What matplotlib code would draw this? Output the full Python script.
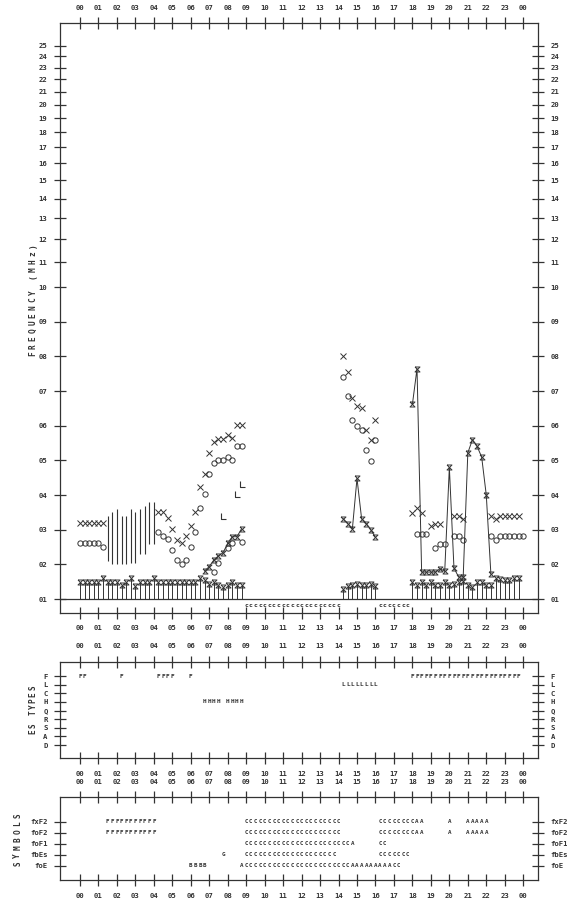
import numpy as np
import matplotlib
matplotlib.use("Agg")
import matplotlib.pyplot as plt
from matplotlib.path import Path

# ---------------- data ----------------
HOUR_TICKS = list(range(25))
HOUR_LABELS = ["%02d" % (h % 24) for h in HOUR_TICKS]
FREQ_TICKS = list(range(1, 26))
FREQ_LABELS = ["%02d" % f for f in FREQ_TICKS]

# fxF2 (x)
fx_t = [0.0, 0.25, 0.5, 0.75, 1.0, 1.25,
        4.25, 4.5, 4.75, 5.0, 5.25, 5.5, 5.75, 6.0, 6.25, 6.5, 6.75, 7.0,
        7.25, 7.5, 7.75, 8.0, 8.25, 8.5, 8.75,
        14.25, 14.5, 14.75, 15.0, 15.25, 15.5, 15.75, 16.0,
        18.0, 18.25, 18.5, 19.0, 19.25, 19.5, 20.25, 20.5, 20.75,
        22.25, 22.5, 22.75, 23.0, 23.25, 23.5, 23.75]
fx_v = [3.2, 3.2, 3.2, 3.2, 3.2, 3.2,
        3.52, 3.52, 3.33, 3.01, 2.7, 2.61, 2.83, 3.12, 3.52, 4.23, 4.61, 5.23,
        5.53, 5.61, 5.62, 5.74, 5.64, 6.02, 6.02,
        8.0, 7.55, 6.79, 6.58, 6.5, 5.89, 5.59, 6.18,
        3.49, 3.63, 3.49, 3.1, 3.18, 3.18, 3.4, 3.4, 3.3,
        3.4, 3.3, 3.4, 3.4, 3.4, 3.4, 3.4]

# foF2 (o)
fo_t = [0.0, 0.25, 0.5, 0.75, 1.0, 1.25,
        4.25, 4.5, 4.75, 5.0, 5.25, 5.5, 5.75, 6.0, 6.25, 6.5, 6.75, 7.0,
        7.25, 7.5, 7.75, 8.0, 8.25, 8.5, 8.75,
        14.25, 14.5, 14.75, 15.0, 15.25, 15.5, 15.75, 16.0,
        18.25, 18.5, 18.75, 19.25, 19.5, 19.75, 20.25, 20.5, 20.75,
        22.25, 22.5, 22.75, 23.0, 23.25, 23.5, 23.75, 24.0]
fo_v = [2.62, 2.62, 2.62, 2.62, 2.62, 2.51,
        2.93, 2.83, 2.73, 2.42, 2.13, 2.0, 2.13, 2.51, 2.93, 3.64, 4.03, 4.6,
        4.92, 5.02, 5.02, 5.11, 5.02, 5.42, 5.42,
        7.4, 6.87, 6.18, 5.99, 5.89, 5.3, 4.98, 5.59,
        2.89, 2.89, 2.89, 2.48, 2.58, 2.58, 2.81, 2.81, 2.7,
        2.81, 2.7, 2.81, 2.81, 2.81, 2.81, 2.81, 2.81]

# foF1 (o, lower layer)
f1_t = [7.25, 7.5, 8.0, 8.25, 8.75]
f1_v = [1.77, 2.04, 2.48, 2.61, 2.65]

# L marks
fl_t = [7.75, 8.5, 8.75]
fl_v = [3.41, 4.03, 4.31]

# foE (connected)
foe_t = [6.75, 7.0, 7.25, 7.5, 7.75, 8.0, 8.25, 8.5, 8.75]
foe_v = [1.81, 1.94, 2.13, 2.25, 2.34, 2.61, 2.8, 2.8, 3.03]

# foEs (connected segments)
es1_t = [14.25, 14.5, 14.75, 15.0, 15.25, 15.5, 15.75, 16.0]
es1_v = [3.32, 3.18, 3.03, 4.48, 3.32, 3.18, 3.0, 2.78]
es2_t = [18.0, 18.25, 18.5, 18.75, 19.0, 19.25, 19.5, 19.75, 20.0, 20.25,
         20.5, 20.75, 21.0, 21.25, 21.5, 21.75, 22.0, 22.25]
es2_v = [6.62, 7.65, 1.78, 1.78, 1.78, 1.78, 1.88, 1.8, 4.8, 1.9,
         1.64, 1.64, 5.22, 5.6, 5.41, 5.1, 4.0, 1.72]

# spread-F ranges
sp_t = [1.5, 1.75, 2.0, 2.25, 2.5, 2.75, 3.0, 3.25, 3.5, 3.75, 4.0]
sp_lo = [2.1, 2.0, 2.0, 2.0, 2.0, 2.05, 2.05, 2.3, 2.3, 2.6, 2.6]
sp_hi = [3.4, 3.5, 3.6, 3.4, 3.4, 3.6, 3.5, 3.6, 3.7, 3.8, 3.8]

# fbEs bars
bar_t = [0.0, 0.25, 0.5, 0.75, 1.0, 1.25, 1.5, 1.75, 2.0, 2.25, 2.5, 2.75,
         3.0, 3.25, 3.5, 3.75, 4.0, 4.25, 4.5, 4.75, 5.0, 5.25, 5.5, 5.75,
         6.0, 6.25, 6.5, 6.75, 7.0, 7.25, 7.5, 7.75, 8.0, 8.25, 8.5, 8.75,
         14.25, 14.5, 14.75, 15.0, 15.25, 15.5, 15.75, 16.0,
         18.0, 18.25, 18.5, 18.75, 19.0, 19.25, 19.5, 19.75, 20.0, 20.25,
         20.5, 20.75, 21.0, 21.25, 21.5, 21.75, 22.0, 22.25, 22.5, 22.75,
         23.0, 23.25, 23.5, 23.75]
bar_v = [1.5, 1.5, 1.5, 1.5, 1.5, 1.62, 1.5, 1.5, 1.5, 1.4, 1.5, 1.6,
         1.38, 1.5, 1.5, 1.5, 1.62, 1.5, 1.5, 1.5, 1.5, 1.5, 1.5, 1.5,
         1.5, 1.5, 1.62, 1.55, 1.45, 1.5, 1.42, 1.35, 1.42, 1.5, 1.42, 1.42,
         1.3, 1.38, 1.4, 1.45, 1.4, 1.4, 1.45, 1.38,
         1.48, 1.42, 1.48, 1.42, 1.48, 1.4, 1.4, 1.48, 1.4, 1.45,
         1.5, 1.52, 1.4, 1.35, 1.48, 1.48, 1.4, 1.4, 1.62, 1.58,
         1.55, 1.55, 1.62, 1.6]

# qualifying letters below the 1 MHz line
c_row1_start, c_row1 = 9.0, "ccccccccccccccccccccc"
c_row2_start, c_row2 = 16.25, "ccccccc"

# Es types panel
ES_ROWS = ["F", "L", "C", "H", "Q", "R", "S", "A", "D"]
es_type_runs = [("F", 0.0, "FF"), ("F", 2.25, "F"), ("F", 4.25, "FFFF"),
                ("F", 6.0, "F"), ("H", 6.75, "HHHH"), ("H", 8.0, "HHHH"),
                ("L", 14.25, "LLLLLLLL"),
                ("F", 18.0, "FFFFFFFFFFFFFFFFFFFFFFFF")]

# symbol panel
SYM_ROWS = ["fxF2", "foF2", "foF1", "fbEs", "foE"]
sym_runs = [("fxF2", 1.5, "FFFFFFFFFFF"), ("fxF2", 9.0, "CCCCCCCCCCCCCCCCCCCCC"),
            ("fxF2", 16.25, "CCCCCCCCAA"), ("fxF2", 20.0, "A"),
            ("fxF2", 21.0, "AAAAA"),
            ("foF2", 1.5, "FFFFFFFFFFF"), ("foF2", 9.0, "CCCCCCCCCCCCCCCCCCCCC"),
            ("foF2", 16.25, "CCCCCCCCAA"), ("foF2", 20.0, "A"),
            ("foF2", 21.0, "AAAAA"),
            ("foF1", 9.0, "CCCCCCCCCCCCCCCCCCCCCCCA"), ("foF1", 16.25, "CC"),
            ("fbEs", 7.75, "G"), ("fbEs", 9.0, "CCCCCCCCCCCCCCCCCCCC"),
            ("fbEs", 16.25, "CCCCCCC"),
            ("foE", 6.0, "BBBB"), ("foE", 8.75, "A"),
            ("foE", 9.0, "CCCCCCCCCCCCCCCCCCCCCCCAAAAAAAAACC")]

# ---------------- style ----------------
INK = "#333333"
MONO = ["DejaVu Sans Mono"]
plt.rcParams["font.family"] = MONO
plt.rcParams["font.weight"] = "bold"
FS = 5.2
STEP = 0.25

K = 17.5


def fwd(v):
    v = np.asarray(v, dtype=float)
    return np.where(v <= 10, v, 10 + K * np.log10(np.maximum(v, 1e-6) / 10))


def inv(u):
    u = np.asarray(u, dtype=float)
    return np.where(u <= 10, u, 10 * 10 ** ((u - 10) / K))


# hourglass marker used for Es values
hg = Path([(-1, 1), (1, 1), (-1, -1), (1, -1), (-1, 1)],
          [Path.MOVETO, Path.LINETO, Path.LINETO, Path.LINETO, Path.LINETO])
# corner marker for the L symbols
lmark = Path([(-0.6, 1), (-0.6, -1), (0.9, -1)],
             [Path.MOVETO, Path.LINETO, Path.LINETO])

fig = plt.figure(figsize=(5.67, 9.01), dpi=100)
W, H = 567.0, 901.0


def box(x0, y0, x1, y1):
    return [x0 / W, 1 - y1 / H, (x1 - x0) / W, (y1 - y0) / H]


def spaced_vlabel(x_px, yc_px, text, gap_px, size):
    """Vertical label reading bottom-to-top with fixed letter pitch."""
    n = len(text)
    for i, ch in enumerate(text):
        y_px = yc_px + (n - 1) / 2 * gap_px - i * gap_px
        fig.text(x_px / W, 1 - y_px / H, ch, rotation=90, ha="center",
                 va="center", fontsize=size, color=INK)


XLIM = (-1.08, 24.8)


def style_time_axis(ax):
    ax.set_xlim(*XLIM)
    ax.set_xticks(HOUR_TICKS)
    ax.set_xticklabels(HOUR_LABELS)
    ax.tick_params(axis="x", which="both", direction="inout", length=8,
                   width=0.9, color=INK, labelsize=FS, labelcolor=INK,
                   top=True, labeltop=True, bottom=True, labelbottom=True,
                   pad=5)
    ax.tick_params(axis="y", which="both", direction="inout", length=8,
                   width=0.9, color=INK, labelsize=FS, labelcolor=INK,
                   left=True, right=True, labelleft=True, labelright=True,
                   pad=5)
    for s in ax.spines.values():
        s.set_color(INK)
        s.set_linewidth(0.9)


# ---------------- main frequency panel ----------------
ax = fig.add_axes(box(60, 23, 538, 613))
ax.set_yscale("function", functions=(fwd, inv))
ax.set_ylim(inv(0.6), inv(17.62))
ax.set_yticks(FREQ_TICKS)
ax.set_yticklabels(FREQ_LABELS)
ax.yaxis.set_minor_locator(matplotlib.ticker.NullLocator())
style_time_axis(ax)

ax.axhline(1.0, color=INK, lw=0.9)

# Es bars
ax.vlines(bar_t, 1.0, bar_v, color=INK, lw=0.7)
ax.plot(bar_t, bar_v, ls="none", marker=hg, ms=3.6, mew=0.7, mfc="none",
        mec=INK)

# spread F
ax.vlines(sp_t, sp_lo, sp_hi, color=INK, lw=0.8)

ax.plot(fx_t, fx_v, ls="none", marker="x", ms=3.8, mew=0.7, color=INK)
ax.plot(fo_t, fo_v, ls="none", marker="o", ms=3.8, mew=0.7, mfc="none",
        mec=INK)
ax.plot(f1_t, f1_v, ls="none", marker="o", ms=3.8, mew=0.7, mfc="none",
        mec=INK)
ax.plot(fl_t, fl_v, ls="none", marker=lmark, ms=4.0, mew=0.8, mfc="none",
        mec=INK)
ax.plot(foe_t, foe_v, ls="-", lw=0.7, marker=hg, ms=3.6, mew=0.7, mfc="none",
        color=INK)
ax.plot(es1_t, es1_v, ls="-", lw=0.7, marker=hg, ms=3.6, mew=0.7, mfc="none",
        color=INK)
ax.plot(es2_t, es2_v, ls="-", lw=0.7, marker=hg, ms=3.6, mew=0.7, mfc="none",
        color=INK)

for start, s in [(c_row1_start, c_row1), (c_row2_start, c_row2)]:
    for i, ch in enumerate(s):
        ax.text(start + i * STEP, inv(0.83), ch, ha="center", va="center",
                fontsize=4.6, color=INK)

spaced_vlabel(33, 300, "FREQUENCY (MHz)", 7.7, 5.6)

# ---------------- Es types panel ----------------
ax2 = fig.add_axes(box(60, 662, 538, 758))
ax2.set_ylim(len(ES_ROWS) - 1 + 1.5, -1.63)
ax2.set_yticks(range(len(ES_ROWS)))
ax2.set_yticklabels(ES_ROWS)
style_time_axis(ax2)
for row, start, s in es_type_runs:
    yi = ES_ROWS.index(row)
    for i, ch in enumerate(s):
        ax2.text(start + i * STEP, yi, ch, ha="center", va="center",
                 fontsize=4.4, color=INK)
spaced_vlabel(33, 710, "ES TYPES", 6.3, 5.6)

# ---------------- symbols panel ----------------
ax3 = fig.add_axes(box(60, 797, 538, 880))
ax3.set_ylim(len(SYM_ROWS) - 1 + 1.3, -2.25)
ax3.set_yticks(range(len(SYM_ROWS)))
ax3.set_yticklabels(SYM_ROWS)
style_time_axis(ax3)
for row, start, s in sym_runs:
    yi = SYM_ROWS.index(row)
    for i, ch in enumerate(s):
        ax3.text(start + i * STEP, yi, ch, ha="center", va="center",
                 fontsize=4.2, color=INK)
spaced_vlabel(18, 840, "SYMBOLS", 8.0, 5.6)

fig.savefig("out.png", dpi=100, facecolor="white")
